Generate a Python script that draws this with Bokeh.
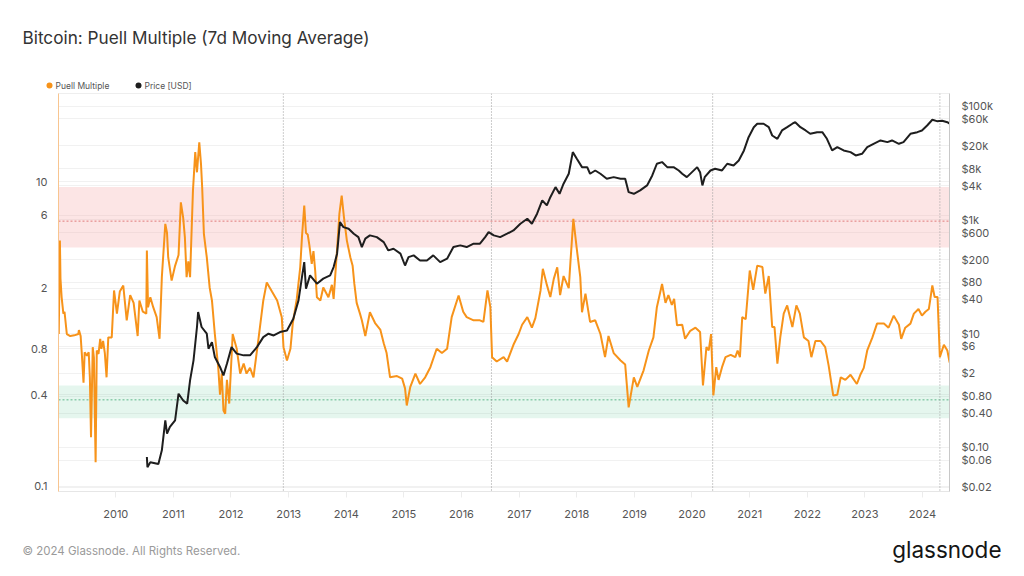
import calendar
from datetime import datetime, timedelta

from bokeh.plotting import figure
from bokeh.layouts import column, row
from bokeh.models import (Range1d, LogScale, LogAxis, FixedTicker, BoxAnnotation,
                          Span, Grid)
from bokeh.core.properties import value
from bokeh.embed import file_html
from bokeh.resources import INLINE

# ---------------- data ----------------
# decimal years for the Puell Multiple series
puell_years = [
    2009.01, 2009.03, 2009.04, 2009.06, 2009.09, 2009.11, 2009.15, 2009.21, 2009.28, 2009.35,
    2009.36, 2009.39, 2009.41, 2009.44, 2009.46, 2009.50, 2009.53, 2009.55, 2009.57, 2009.60,
    2009.62, 2009.65, 2009.67, 2009.70, 2009.73, 2009.75, 2009.78, 2009.81, 2009.84, 2009.87,
    2009.93, 2009.97, 2010.02, 2010.07, 2010.13, 2010.19, 2010.25, 2010.31, 2010.38, 2010.41,
    2010.47, 2010.53, 2010.54, 2010.56, 2010.60, 2010.65, 2010.71, 2010.76, 2010.80, 2010.86,
    2010.89, 2010.91, 2010.97, 2011.03, 2011.09, 2011.13, 2011.17, 2011.20, 2011.23, 2011.26,
    2011.29, 2011.34, 2011.38, 2011.41, 2011.45, 2011.48, 2011.50, 2011.53, 2011.58, 2011.63,
    2011.67, 2011.72, 2011.78, 2011.81, 2011.84, 2011.87, 2011.90, 2011.93, 2011.97, 2012.03,
    2012.10, 2012.16, 2012.22, 2012.27, 2012.33, 2012.39, 2012.48, 2012.56, 2012.62, 2012.71,
    2012.80, 2012.88, 2012.91, 2012.97, 2013.03, 2013.07, 2013.14, 2013.20, 2013.23, 2013.27,
    2013.30, 2013.33, 2013.36, 2013.40, 2013.43, 2013.46, 2013.49, 2013.55, 2013.60, 2013.69,
    2013.75, 2013.78, 2013.84, 2013.88, 2013.92, 2013.96, 2014.01, 2014.07, 2014.11, 2014.14,
    2014.18, 2014.24, 2014.27, 2014.33, 2014.41, 2014.50, 2014.59, 2014.65, 2014.70, 2014.76,
    2014.88, 2014.97, 2015.02, 2015.05, 2015.11, 2015.20, 2015.28, 2015.37, 2015.46, 2015.57,
    2015.66, 2015.75, 2015.83, 2015.95, 2016.03, 2016.09, 2016.21, 2016.32, 2016.38, 2016.45,
    2016.50, 2016.53, 2016.61, 2016.73, 2016.79, 2016.90, 2016.99, 2017.05, 2017.14, 2017.22,
    2017.28, 2017.37, 2017.41, 2017.48, 2017.54, 2017.60, 2017.66, 2017.71, 2017.77, 2017.86,
    2017.89, 2017.94, 2018.00, 2018.06, 2018.09, 2018.15, 2018.23, 2018.32, 2018.41, 2018.49,
    2018.55, 2018.64, 2018.76, 2018.84, 2018.90, 2018.99, 2019.05, 2019.16, 2019.25, 2019.33,
    2019.39, 2019.48, 2019.54, 2019.59, 2019.65, 2019.69, 2019.74, 2019.83, 2019.88, 2019.97,
    2020.06, 2020.14, 2020.19, 2020.25, 2020.29, 2020.33, 2020.37, 2020.42, 2020.46, 2020.52,
    2020.58, 2020.67, 2020.75, 2020.79, 2020.83, 2020.87, 2020.93, 2021.00, 2021.06, 2021.13,
    2021.22, 2021.27, 2021.33, 2021.39, 2021.43, 2021.48, 2021.53, 2021.59, 2021.65, 2021.74,
    2021.81, 2021.87, 2021.94, 2022.02, 2022.07, 2022.14, 2022.23, 2022.31, 2022.37, 2022.45,
    2022.52, 2022.58, 2022.66, 2022.75, 2022.86, 2022.92, 2022.98, 2023.04, 2023.13, 2023.21,
    2023.33, 2023.41, 2023.50, 2023.59, 2023.63, 2023.70, 2023.79, 2023.85, 2023.93, 2023.99,
    2024.05, 2024.11, 2024.17, 2024.21, 2024.26, 2024.30, 2024.37, 2024.43, 2024.47,
]
puell_values = [
    1.0, 4.1, 2.3, 1.74, 1.36, 1.4, 1.0, 0.97, 0.98, 1.0,
    1.06, 0.97, 0.745, 0.48, 0.76, 0.72, 0.76, 0.52, 0.21, 0.82,
    0.70, 0.144, 0.78, 0.74, 0.93, 0.80, 0.90, 0.75, 0.52, 0.95,
    0.95, 1.93, 1.36, 1.9, 2.08, 1.23, 1.8, 1.6, 0.97, 1.66,
    1.4, 1.36, 3.53, 1.5, 1.74, 1.5, 1.29, 0.93, 2.36, 5.28,
    4.6, 3.19, 2.24, 2.8, 3.3, 7.3, 5.8, 4.3, 2.36, 3.0,
    2.36, 8.7, 15.6, 11.5, 18.1, 13.0, 9.2, 4.54, 3.19, 2.02,
    1.66, 1.0, 0.6, 0.4, 0.55, 0.315, 0.30, 0.5, 0.35, 1.0,
    0.8, 0.55, 0.64, 0.55, 0.6, 0.52, 0.95, 1.66, 2.18, 1.9,
    1.66, 1.29, 0.82, 0.67, 0.8, 1.17, 1.7, 2.74, 4.3, 6.96,
    4.6, 4.5, 3.8, 2.88, 3.5, 2.6, 1.74, 1.66, 2.02, 1.74,
    2.1, 1.70, 3.6, 6.14, 8.1, 5.8, 4.1, 3.19, 2.8, 2.13,
    1.6, 1.35, 1.23, 0.97, 1.39, 1.18, 1.07, 0.87, 0.75, 0.52,
    0.53, 0.51, 0.44, 0.34, 0.448, 0.55, 0.47, 0.52, 0.606, 0.80,
    0.75, 0.80, 1.29, 1.79, 1.4, 1.29, 1.23, 1.23, 1.2, 1.93,
    1.5, 0.705, 0.66, 0.705, 0.66, 0.85, 1.0, 1.15, 1.29, 1.1,
    1.27, 1.93, 2.68, 2.1, 1.75, 2.3, 2.74, 1.8, 2.4, 2.0,
    3.0, 5.7, 3.6, 2.36, 1.39, 1.84, 1.2, 1.23, 1.0, 0.705,
    0.97, 0.75, 0.67, 0.63, 0.33, 0.52, 0.45, 0.578, 0.78, 0.95,
    1.5, 2.13, 1.6, 1.8, 1.55, 1.7, 1.14, 1.15, 0.93, 1.05,
    1.1, 1.03, 0.46, 0.82, 0.78, 1.0, 0.395, 0.606, 0.5, 0.606,
    0.705, 0.73, 0.705, 0.78, 0.705, 1.29, 1.25, 2.61, 1.95, 2.81,
    2.75, 1.84, 2.4, 1.11, 1.11, 0.64, 0.95, 1.36, 1.54, 1.11,
    1.54, 1.36, 0.95, 0.9, 0.705, 0.9, 0.9, 0.82, 0.62, 0.395,
    0.40, 0.52, 0.5, 0.54, 0.47, 0.54, 0.6, 0.78, 0.95, 1.17,
    1.17, 1.1, 1.32, 1.15, 0.93, 1.1, 1.17, 1.36, 1.46, 1.32,
    1.4, 1.46, 2.08, 1.75, 1.75, 0.705, 0.85, 0.78, 0.65,
]

# decimal years for the price series
price_years = [
    2010.54, 2010.55, 2010.60, 2010.74, 2010.80, 2010.86, 2010.89, 2010.94, 2011.03, 2011.09,
    2011.17, 2011.24, 2011.29, 2011.35, 2011.41, 2011.43, 2011.49, 2011.58, 2011.61, 2011.67,
    2011.72, 2011.81, 2011.87, 2011.93, 2012.01, 2012.10, 2012.22, 2012.33, 2012.45, 2012.56,
    2012.65, 2012.74, 2012.85, 2012.97, 2013.08, 2013.17, 2013.23, 2013.27, 2013.30, 2013.37,
    2013.49, 2013.60, 2013.72, 2013.78, 2013.84, 2013.89, 2013.95, 2014.04, 2014.13, 2014.21,
    2014.27, 2014.33, 2014.41, 2014.53, 2014.65, 2014.73, 2014.82, 2014.94, 2015.02, 2015.08,
    2015.17, 2015.28, 2015.40, 2015.51, 2015.63, 2015.75, 2015.86, 2015.98, 2016.09, 2016.21,
    2016.32, 2016.41, 2016.47, 2016.56, 2016.67, 2016.79, 2016.90, 2017.02, 2017.14, 2017.22,
    2017.31, 2017.40, 2017.48, 2017.54, 2017.63, 2017.70, 2017.77, 2017.86, 2017.93, 2018.00,
    2018.09, 2018.18, 2018.23, 2018.32, 2018.41, 2018.52, 2018.64, 2018.76, 2018.84, 2018.90,
    2018.99, 2019.10, 2019.22, 2019.31, 2019.39, 2019.48, 2019.57, 2019.68, 2019.77, 2019.83,
    2019.91, 2020.00, 2020.09, 2020.14, 2020.18, 2020.22, 2020.32, 2020.40, 2020.52, 2020.61,
    2020.72, 2020.81, 2020.90, 2020.98, 2021.07, 2021.13, 2021.24, 2021.33, 2021.39, 2021.48,
    2021.56, 2021.65, 2021.74, 2021.79, 2021.88, 2021.97, 2022.05, 2022.17, 2022.26, 2022.34,
    2022.43, 2022.52, 2022.63, 2022.75, 2022.84, 2022.95, 2023.04, 2023.15, 2023.27, 2023.39,
    2023.47, 2023.59, 2023.67, 2023.79, 2023.91, 2023.99, 2024.08, 2024.17, 2024.25, 2024.34,
    2024.43, 2024.47,
]
price_values = [
    0.068, 0.045, 0.055, 0.051, 0.089, 0.30, 0.175, 0.229, 0.30, 0.88,
    0.67, 0.59, 1.51, 3.4, 13.1, 24, 13.1, 10, 5.45, 7.1,
    3.9, 2.6, 1.85, 2.97, 5.8, 4.46, 4.16, 4.16, 5.8, 8.7,
    10, 9.3, 10.7, 11.4, 18.3, 38.5, 99, 181, 61.8, 106,
    75.7, 92.8, 106, 148, 255, 915, 747, 700, 572, 499,
    333, 468, 535, 499, 407, 291, 312, 255, 158, 222,
    238, 194, 194, 238, 181, 208, 333, 357, 333, 382,
    382, 499, 611, 535, 499, 572, 653, 857, 1050, 857,
    1285, 2200, 1800, 2510, 3770, 2880, 4330, 6490, 15550, 11900,
    8470, 8470, 6490, 7400, 6490, 5300, 5650, 5300, 5300, 3080,
    2880, 3300, 4040, 6060, 9720, 10400, 8470, 8470, 7400, 6490,
    5650, 6920, 8470, 6920, 4040, 5650, 7400, 7940, 7400, 9720,
    9080, 11100, 16650, 28500, 42700, 49100, 49100, 42700, 30500, 26700,
    37400, 42700, 49100, 52300, 42700, 37400, 32700, 34900, 34900, 26700,
    16650, 19000, 16650, 15550, 13600, 14550, 19000, 21800, 24950, 23300,
    24950, 21800, 23300, 32700, 34900, 37400, 45800, 57700, 54500, 55500,
    52300, 49100,
]

halving_dates = ["2012-11-28", "2016-07-09", "2020-05-11", "2024-04-20"]
year_ticks = list(range(2010, 2025))

puell_ticks = [0.1, 0.4, 0.8, 2, 6, 10]
puell_tick_labels = ["0.1", "0.4", "0.8", "2", "6", "10"]
price_ticks = [0.02, 0.06, 0.1, 0.4, 0.8, 2, 6, 10, 40, 80, 200, 600,
               1000, 4000, 8000, 20000, 60000, 100000]
price_tick_labels = ["$0.02", "$0.06", "$0.10", "$0.40", "$0.80", "$2", "$6", "$10",
                     "$40", "$80", "$200", "$600", "$1k", "$4k", "$8k", "$20k",
                     "$60k", "$100k"]

red_band = (3.7, 9.2, 5.5)      # bottom, top, dotted centre line
green_band = (0.28, 0.46, 0.37)

title_text = "Bitcoin: Puell Multiple (7d Moving Average)"
legend_names = ["Puell Multiple", "Price [USD]"]
footer_text = "© 2024 Glassnode. All Rights Reserved."
brand_text = "glassnode"

# ---------------- helpers ----------------
EPOCH = datetime(1970, 1, 1)


def to_dt(y):
    yr = int(y)
    n = 366 if calendar.isleap(yr) else 365
    return datetime(yr, 1, 1) + timedelta(days=(y - yr) * n)


def to_ms(dt):
    return (dt - EPOCH).total_seconds() * 1000.0


W = 1010
FONT = "Inter"
ORANGE = "#f7931a"
DARK = "#1e1e1e"


def text_figure(height, top):
    """A figure whose frame is the whole canvas, in page pixel coordinates."""
    f = figure(width=W, height=height, x_range=Range1d(0, W),
               y_range=Range1d(top + height, top),
               min_border_left=0, min_border_right=0, min_border_top=0,
               min_border_bottom=0,
               x_axis_location=None, y_axis_location=None,
               toolbar_location=None, output_backend="svg")
    f.outline_line_color = None
    f.grid.visible = False
    f.background_fill_color = "white"
    f.border_fill_color = "white"
    return f


def put_text(f, x, y, text, size, color, align="left"):
    f.text(x=[x], y=[y], text=[text], text_font=value(FONT),
           text_font_size=value(size), text_color=color,
           text_align=align, text_baseline="middle")


# ---------------- header ----------------
HEAD_H = 92
head = text_figure(HEAD_H, 0)
put_text(head, 22, 37, title_text, "17.2px", "#333333")
head.scatter(x=[49, 138], y=[85, 85], size=6, color=[ORANGE, DARK], line_color=None)
put_text(head, 55, 85, legend_names[0], "8.5px", "#555555")
put_text(head, 144, 85, legend_names[1], "8.5px", "#555555")

# ---------------- main chart ----------------
p = figure(width=W, height=438, x_axis_type="datetime", y_axis_type="log",
           x_range=Range1d(datetime(2009, 1, 3), datetime(2024, 6, 20)),
           y_range=Range1d(0.0927, 37.8),
           output_backend="svg", toolbar_location=None,
           min_border_left=58, min_border_right=61, min_border_top=1,
           min_border_bottom=39)
p.extra_y_ranges = {"price": Range1d(0.0168, 167000)}
p.extra_y_scales = {"price": LogScale()}
p.outline_line_color = "#eeeeee"
p.background_fill_color = "white"
p.border_fill_color = "white"

p.xgrid.visible = False
p.ygrid.ticker = FixedTicker(ticks=puell_ticks)
p.ygrid.grid_line_color = "#f1f1f1"
p.add_layout(Grid(dimension=1, ticker=FixedTicker(ticks=price_ticks),
                  y_range_name="price", grid_line_color="#f1f1f1"))

p.add_layout(BoxAnnotation(bottom=red_band[0], top=red_band[1], fill_color="#f4a0a0",
                           fill_alpha=0.28, line_color=None, level="underlay"))
p.add_layout(BoxAnnotation(bottom=green_band[0], top=green_band[1], fill_color="#7fd4a8",
                           fill_alpha=0.2, line_color=None, level="underlay"))
p.add_layout(Span(location=red_band[2], dimension="width", line_color="#e07a7a",
                  line_dash="2 2", line_width=1, level="underlay"))
p.add_layout(Span(location=green_band[2], dimension="width", line_color="#5fb88a",
                  line_dash="2 2", line_width=1, level="underlay"))

for d in halving_dates:
    p.add_layout(Span(location=to_ms(datetime.strptime(d, "%Y-%m-%d")), dimension="height",
                      line_color="#9a9a9a", line_dash="1 2", line_width=1, level="underlay"))

p.line([to_dt(y) for y in puell_years], puell_values, line_color=ORANGE, line_width=2)
p.line([to_dt(y) for y in price_years], price_values, line_color=DARK, line_width=2,
       y_range_name="price")

xa = p.xaxis[0]
x_tick_ms = [to_ms(datetime(y, 1, 1)) for y in year_ticks]
xa.ticker = FixedTicker(ticks=x_tick_ms)
xa.major_label_overrides = {t: str(y) for t, y in zip(x_tick_ms, year_ticks)}
xa.axis_line_color = "#e6e6e6"
xa.major_tick_line_color = "#ececec"
xa.major_tick_out = 6
xa.major_tick_in = 0
xa.minor_tick_line_color = None
xa.major_label_standoff = 12
xa.major_label_text_font = FONT
xa.major_label_text_font_size = "11px"
xa.major_label_text_color = "#555555"

ya = p.yaxis[0]
ya.ticker = FixedTicker(ticks=puell_ticks)
ya.major_label_overrides = dict(zip(puell_ticks, puell_tick_labels))
ya.axis_line_color = "#f8c590"
ya.major_tick_line_color = None
ya.major_tick_out = 0
ya.major_tick_in = 0
ya.minor_tick_line_color = None
ya.minor_tick_out = 0
ya.major_label_standoff = 11
ya.major_label_text_font = FONT
ya.major_label_text_font_size = "11px"
ya.major_label_text_color = "#555555"

ra = LogAxis(y_range_name="price", ticker=FixedTicker(ticks=price_ticks),
             major_label_overrides=dict(zip(price_ticks, price_tick_labels)))
ra.axis_line_color = "#c8c8c8"
ra.major_tick_line_color = None
ra.major_tick_out = 0
ra.major_tick_in = 0
ra.minor_tick_line_color = None
ra.minor_tick_out = 0
ra.major_label_standoff = 12
ra.major_label_text_font = FONT
ra.major_label_text_font_size = "11px"
ra.major_label_text_color = "#555555"
p.add_layout(ra, "right")

# ---------------- footer ----------------
FOOT_TOP = HEAD_H + 438
foot = text_figure(40, FOOT_TOP)
put_text(foot, 22, 550, footer_text, "11.5px", "#9a9a9a")
put_text(foot, 1001, 549, brand_text, "22.5px", "#151515", align="right")

# wrapping each figure in its own row keeps the frames from being aligned
layout = column(row(head), row(p), row(foot), spacing=0)
open("out.html", "w").write(file_html(layout, INLINE))
